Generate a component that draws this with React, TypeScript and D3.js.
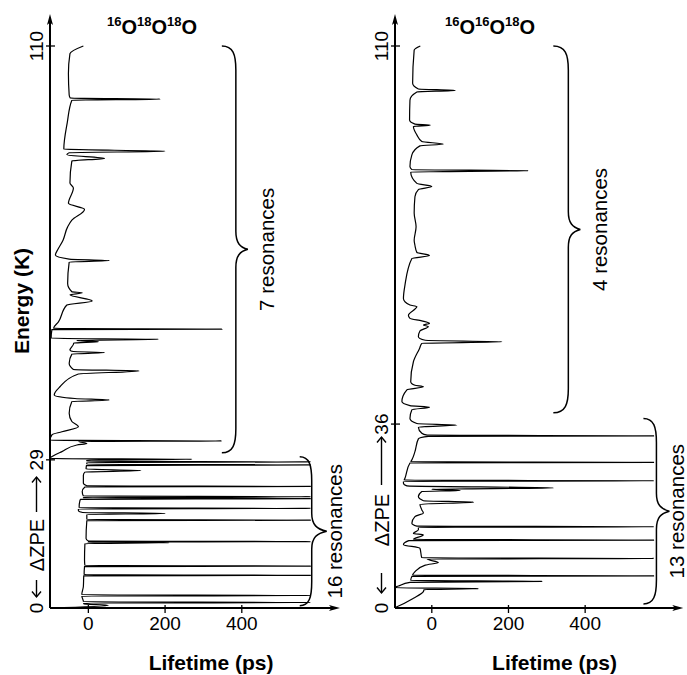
import React from 'react';
import * as d3 from 'd3';

const W = 687;
const H = 675;
const FONT = "'Liberation Sans', Arial, Helvetica, sans-serif";

// [energy (K), lifetime (ps)] — 16O18O18O
const leftCurve: [number, number][] = [
  [110, -13], [108.5, -48], [104.6, -52], [100.4, -50], [99.8, -47], [99.6, 187], [99.4, -43],
  [95.0, -55], [89.8, -64], [89.4, 200], [89.1, -50], [88.7, -56], [88.0, 42], [87.5, -43],
  [83.2, -48], [82.2, -39], [79.2, -52], [78.0, -10], [75.9, -43], [74.6, -54], [72.0, -66],
  [70.1, -80], [69.1, -86], [68.3, -50], [68.0, 55], [67.7, -50], [63.5, -54], [61.9, -43],
  [61.7, -16], [61.3, -48], [60.1, 10], [59.3, -56], [56.0, -78], [54.72, -91], [54.6, 348],
  [54.48, -95], [52.8, -97], [52.6, 183], [52.35, -30], [52.1, 26], [51.85, -38], [51.6, -39],
  [50.5, -48], [50.2, -39], [50.0, 42], [49.7, -43], [47.9, -50], [46.7, -39], [46.4, 132],
  [45.8, -26], [43.3, -74], [41.7, -89], [41.0, -35], [40.7, 54], [40.4, -43], [38.1, -50],
  [36.5, -43], [35.5, -26], [34.5, -69], [33.9, -95], [32.82, -100], [32.7, 348], [32.58, -25],
  [32.2, -4], [31.9, -30], [30.6, -69], [29.8, -91], [29.25, -100], [29.1, 270], [28.95, -4],
  [28.72, -4], [28.6, 580], [28.48, -4], [28.12, -4], [28.0, 580], [27.88, -5], [27.2, -6],
  [26.9, 137], [26.6, -9], [26.0, -13], [24.4, -13], [23.92, -4], [23.8, 580], [23.68, -9],
  [22.8, -16], [21.92, -13], [21.8, 580], [21.6, -15], [21.4, 580], [21.28, -20], [21.0, -22],
  [19.8, -24], [19.62, -24], [19.5, 580], [19.38, -26], [19.1, -26], [18.7, -15], [18.5, 200],
  [18.3, -4], [17.5, -4], [17.32, -4], [17.2, 580], [17.08, -4], [13.6, -6], [13.12, 0],
  [13.0, 580], [12.9, -2], [12.8, 210], [12.6, -9], [9.4, -10], [8.32, -9], [8.2, 580],
  [8.08, -10], [6.6, -11], [6.52, -11], [6.4, 580], [6.28, -12], [4.2, -13], [2.7, -17],
  [2.57, -17], [2.45, 580], [2.33, -17], [1.3, -13], [1.2, -13], [1.08, 580], [0.96, -12],
  [0.8, -12], [0.49, 52], [0.0, -100],
];

// [energy (K), lifetime (ps)] — 16O16O18O
const rightCurve: [number, number][] = [
  [110, -30], [109.2, -46], [102.7, -50], [101.6, -35], [101.3, 61], [101.0, -39], [99.4, -57],
  [95.5, -58], [94.7, -44], [94.5, -4], [94.25, -48], [92.6, -39], [91.3, -26], [90.8, 30],
  [90.45, -31], [88.7, -52], [86.4, -57], [85.8, -52], [85.6, 252], [85.35, -55], [83.1, -39],
  [82.5, 0], [81.9, -35], [80.5, -44], [77.3, -46], [74.6, -41], [72.0, -46], [71.0, -44],
  [69.6, -39], [69.0, -6], [68.4, -52], [63.2, -70], [60.6, -74], [59.3, -57], [59.0, -39],
  [57.3, -61], [56.7, -57], [56.2, -26], [55.7, -6], [55.4, -22], [55.1, -9], [54.2, -31],
  [53.1, -35], [52.4, -17], [52.1, 183], [51.8, -26], [50.8, -32], [48.2, -48], [44.3, -55],
  [43.6, -44], [43.3, -22], [42.7, -65], [40.4, -78], [39.6, -57], [39.3, -6], [38.8, -52],
  [37.1, -57], [36.1, -39], [35.8, 65], [35.4, -35], [34.2, -26], [33.82, -12], [33.7, 580],
  [33.58, -9], [33.1, -35], [30.6, -44], [29.0, -52], [28.62, -55], [28.5, 580], [28.38, -57],
  [25.4, -70], [25.02, -72], [24.9, 580], [24.78, -74], [24.4, -74], [23.9, -65], [23.5, 317],
  [23.25, 0], [23.0, 74], [22.8, -26], [21.8, -35], [21.0, -22], [20.7, 109], [20.3, -31],
  [19.2, -26], [18.6, -22], [17.9, -44], [16.6, -52], [16.02, -39], [15.9, 580], [15.78, -35],
  [15.3, -35], [14.6, -48], [14.3, -22], [13.42, -48], [13.3, 580], [13.18, -60], [12.4, -74],
  [11.7, -31], [9.82, -26], [9.7, 580], [9.58, -12], [8.9, 17], [8.4, -17], [7.1, -44],
  [6.42, -50], [6.3, 580], [6.18, -52], [5.4, -55], [5.2, 287], [5.0, -57], [4.3, -87],
  [3.95, -100], [3.8, 122], [3.6, -20], [3.2, -22], [1.9, -48], [0.25, -91], [0.0, -100],
];

const xTicks = [0, 200, 400];
const leftYTicks = [29, 110];
const rightYTicks = [36, 110];
const leftBraces = [
  { eTop: 110, eBot: 30.4, tau: 348, label: '7 resonances' },
  { eTop: 29.6, eBot: 0.45, tau: 551, label: '16 resonances' },
];
const rightBraces = [
  { eTop: 110, eBot: 38.2, tau: 317, label: '4 resonances' },
  { eTop: 37.1, eBot: 0.8, tau: 552, label: '13 resonances' },
];
const TAU_MAX = 580;
const E_MAX = 110;

const yScale = d3.scaleLinear().domain([0, E_MAX]).range([608, 46]);

function bracePath(xEnd: number, xShaft: number, xTip: number, y0: number, y1: number) {
  const yMid = (y0 + y1) / 2;
  const rE = 24;
  const rM = 18;
  return [
    `M${xEnd},${y0}`,
    `C${xEnd + (xShaft - xEnd) * 0.8},${y0} ${xShaft},${y0 + rE * 0.35} ${xShaft},${y0 + rE}`,
    `L${xShaft},${yMid - rM}`,
    `C${xShaft},${yMid - rM * 0.35} ${xShaft + (xTip - xShaft) * 0.35},${yMid - 2} ${xTip},${yMid}`,
    `C${xShaft + (xTip - xShaft) * 0.35},${yMid + 2} ${xShaft},${yMid + rM * 0.35} ${xShaft},${yMid + rM}`,
    `L${xShaft},${y1 - rE}`,
    `C${xShaft},${y1 - rE * 0.35} ${xEnd + (xShaft - xEnd) * 0.8},${y1} ${xEnd},${y1}`,
  ].join(' ');
}

function Arrow({ x, from, to }: { x: number; from: number; to: number }) {
  const dir = to > from ? 1 : -1;
  return (
    <g stroke="#000" strokeWidth={1.4} fill="none">
      <line x1={x} y1={from} x2={x} y2={to} />
      <path d={`M${x - 4.5},${to - dir * 5.5} L${x},${to} L${x + 4.5},${to - dir * 5.5}`} />
    </g>
  );
}

type PanelProps = {
  id: string;
  curve: [number, number][];
  axisX: number;
  tauMin: number;
  axisEnd: number;
  yTicks: number[];
  braces: { eTop: number; eBot: number; tau: number; label: string }[];
  braceLabelX: number[];
  braceOffsets: [number, number][];
  title: string[];
  titleX: number;
  zpeText: number;
  arrowDown: [number, number];
  arrowUp: [number, number];
};

function Panel(p: PanelProps) {
  const x = d3.scaleLinear().domain([p.tauMin, 656]).range([p.axisX, p.axisEnd]);
  const line = d3
    .line<[number, number]>()
    .x((d) => x(d[1]))
    .y((d) => yScale(d[0]))
    .curve(d3.curveMonotoneY);
  const y0 = yScale(0);
  const clipId = `clip-${p.id}`;
  const labX = p.axisX - 7;
  return (
    <g>
      <defs>
        <clipPath id={clipId}>
          <rect x={p.axisX} y={0} width={x(TAU_MAX) - p.axisX} height={y0 + 1} />
        </clipPath>
      </defs>
      <path d={line(p.curve) || ''} fill="none" stroke="#000" strokeWidth={1.2} clipPath={`url(#${clipId})`} />
      <line x1={p.axisX} y1={y0} x2={p.axisX} y2={20} stroke="#000" strokeWidth={2} />
      <path d={`M${p.axisX},14 L${p.axisX + 3},25 L${p.axisX},22.5 L${p.axisX - 3},25 Z`} fill="#000" />
      <line x1={p.axisX} y1={y0} x2={p.axisEnd - 5} y2={y0} stroke="#000" strokeWidth={2} />
      <path d={`M${p.axisEnd},${y0} L${p.axisEnd - 11},${y0 - 3} L${p.axisEnd - 8.5},${y0} L${p.axisEnd - 11},${y0 + 3} Z`} fill="#000" />
      {xTicks.map((t) => (
        <g key={t}>
          <line x1={x(t)} x2={x(t)} y1={y0 - 3} y2={y0 + 5} stroke="#000" strokeWidth={1.3} />
          <text x={x(t)} y={630} fontSize={19} textAnchor="middle" fontFamily={FONT}>{t}</text>
        </g>
      ))}
      {p.yTicks.map((t) => (
        <g key={t}>
          <line x1={p.axisX - 4} x2={p.axisX + 5} y1={yScale(t)} y2={yScale(t)} stroke="#000" strokeWidth={1.3} />
          <text transform={`translate(${labX},${yScale(t)}) rotate(-90)`} fontSize={19} textAnchor="middle" fontFamily={FONT}>{t}</text>
        </g>
      ))}
      <text transform={`translate(${labX},${y0}) rotate(-90)`} fontSize={19} textAnchor="middle" fontFamily={FONT}>0</text>
      <text transform={`translate(${labX + 1},${p.zpeText}) rotate(-90)`} fontSize={20} textAnchor="middle" fontFamily={FONT}>ΔZPE</text>
      <Arrow x={labX - 6.5} from={p.arrowDown[0]} to={p.arrowDown[1]} />
      <Arrow x={labX - 6.5} from={p.arrowUp[0]} to={p.arrowUp[1]} />
      {p.braces.map((b, i) => {
        const xe = x(b.tau);
        const [ds, dt] = p.braceOffsets[i];
        const yt = yScale(b.eTop);
        const yb = yScale(b.eBot);
        return (
          <g key={b.label}>
            <path d={bracePath(xe, xe + ds, xe + dt, yt, yb)} fill="none" stroke="#000" strokeWidth={1.5} />
            <text transform={`translate(${p.braceLabelX[i]},${(yt + yb) / 2}) rotate(-90)`} fontSize={20.5} textAnchor="middle" fontFamily={FONT}>{b.label}</text>
          </g>
        );
      })}
      <text x={p.titleX} y={34} textAnchor="middle" fontFamily={FONT} fontWeight="bold">
        {p.title.map((m, i) => (
          <React.Fragment key={i}>
            <tspan fontSize={13} dy={-8}>{m}</tspan>
            <tspan fontSize={20} dy={8}>O</tspan>
          </React.Fragment>
        ))}
      </text>
      <text x={x(320)} y={670} fontSize={21} fontWeight="bold" textAnchor="middle" fontFamily={FONT}>Lifetime (ps)</text>
    </g>
  );
}

export default function App() {
  return (
    <svg width={W} height={H} viewBox={`0 0 ${W} ${H}`} style={{ position: 'absolute', left: 0, top: 0, background: '#fff' }}>
      <rect width={W} height={H} fill="#fff" />
      <Panel
        id="l"
        curve={leftCurve}
        axisX={50}
        tauMin={-100}
        axisEnd={340}
        yTicks={leftYTicks}
        braces={leftBraces}
        braceLabelX={[274, 342]}
        braceOffsets={[[14, 26], [12, 27]]}
        title={['16', '18', '18']}
        titleX={152}
        zpeText={545}
        arrowDown={[580, 597]}
        arrowUp={[512, 477]}
      />
      <Panel
        id="r"
        curve={rightCurve}
        axisX={395}
        tauMin={-96}
        axisEnd={683.3}
        yTicks={rightYTicks}
        braces={rightBraces}
        braceLabelX={[607, 684]}
        braceOffsets={[[15, 27], [13, 26]]}
        title={['16', '16', '18']}
        titleX={490}
        zpeText={520}
        arrowDown={[573, 593]}
        arrowUp={[485, 437]}
      />
      <text transform="translate(29,301) rotate(-90)" fontSize={21} fontWeight="bold" textAnchor="middle" fontFamily={FONT}>Energy (K)</text>
    </svg>
  );
}
